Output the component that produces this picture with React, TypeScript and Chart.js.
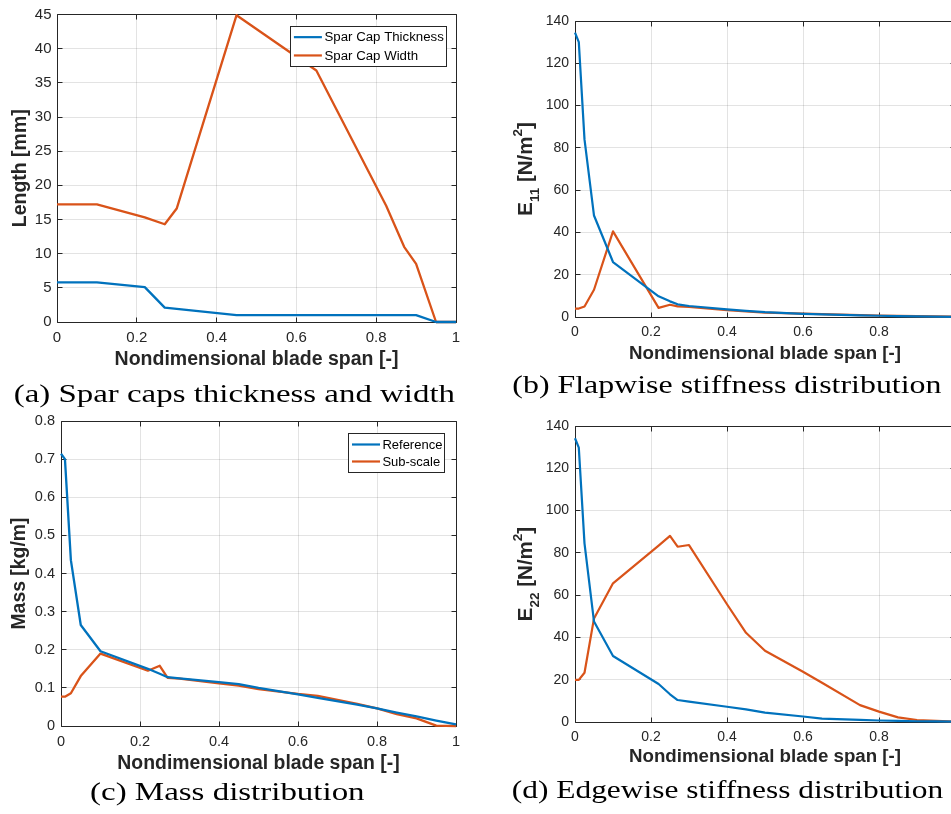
import React, { useEffect, useLayoutEffect, useRef } from "react";
import { Chart, registerables } from "chart.js";

Chart.register(...registerables);

// ---------------- data ----------------
const spanTicks = [0, 0.2, 0.4, 0.6, 0.8, 1];
const lengthTicks = [0, 5, 10, 15, 20, 25, 30, 35, 40, 45];
const stiffnessTicks = [0, 20, 40, 60, 80, 100, 120, 140];
const massTicks = [0, 0.1, 0.2, 0.3, 0.4, 0.5, 0.6, 0.7, 0.8];

// (a) spar caps
const capThicknessSpan = [0, 0.1, 0.22, 0.27, 0.45, 0.9, 0.95, 1];
const capThicknessMm = [5.8, 5.8, 5.1, 2.1, 1.0, 1.0, 0, 0];
const capWidthSpan = [0, 0.1, 0.22, 0.27, 0.3, 0.45, 0.65, 0.825, 0.87, 0.9, 0.95, 1];
const capWidthMm = [17.2, 17.2, 15.3, 14.3, 16.6, 44.9, 36.8, 17.0, 11.0, 8.5, 0, 0];

// stations shared by (b), (c), (d)
const stations = [0, 0.01, 0.025, 0.05, 0.1, 0.22, 0.25, 0.27, 0.3, 0.4, 0.45, 0.5, 0.6, 0.65, 0.75, 0.8, 0.85, 0.9, 0.95, 1];

// (b) flapwise stiffness E11
const e11Reference = [134.5, 130, 84, 48, 26, 9.8, 7.4, 6.0, 5.2, 3.6, 2.9, 2.3, 1.5, 1.2, 0.8, 0.6, 0.45, 0.3, 0.2, 0.1];
const e11SubScale = [4.0, 4.0, 5.0, 12.9, 40.5, 4.3, 5.8, 5.0, 4.8, 3.2, 2.6, 2.1, 1.6, 1.4, 0.9, 0.7, 0.5, 0.4, 0.3, 0.2];

// (c) mass
const massReference = [0.714, 0.7, 0.435, 0.265, 0.196, 0.15, 0.137, 0.128, 0.125, 0.115, 0.11, 0.1, 0.083, 0.074, 0.056, 0.046, 0.035, 0.025, 0.014, 0.004];
const massSubScale = [0.077, 0.077, 0.086, 0.131, 0.19, 0.145, 0.158, 0.126, 0.124, 0.112, 0.106, 0.097, 0.084, 0.079, 0.058, 0.046, 0.031, 0.02, 0.001, 0.0];

// (d) edgewise stiffness E22
const e22Reference = [134.2, 129.8, 84.5, 47.5, 31.2, 18.0, 13.1, 10.4, 9.6, 7.2, 6.0, 4.4, 2.6, 1.6, 1.0, 0.7, 0.5, 0.35, 0.25, 0.15];
const e22SubScale = [19.9, 19.9, 23.3, 49, 65.6, 83.4, 88, 82.9, 83.7, 55.7, 42.2, 33.7, 23.8, 18.6, 8.0, 4.9, 2.2, 0.95, 0.5, 0.2];

// ---------------- styles ----------------
const BLUE = "#0072BD";
const ORANGE = "#D95319";
const AXIS = "#262626";
const GRID = "rgba(38,38,38,0.13)";
const SANS = "'Liberation Sans', Arial, Helvetica, sans-serif";
const SERIF = "'Liberation Serif', 'Times New Roman', serif";
const SPAN_TITLE = "Nondimensional blade span [-]";

const alignPx = (v: number) => Math.round(v - 0.5) + 0.5;

const matlabAxes = {
  id: "matlabAxes",
  beforeDatasetsDraw(chart: any, _args: any, opts: any) {
    const { ctx, chartArea } = chart;
    const { x, y } = chart.scales;
    const l = alignPx(chartArea.left);
    const r = alignPx(chartArea.right);
    const t = alignPx(chartArea.top);
    const b = alignPx(chartArea.bottom);
    const L = opts.tickLen ?? 5;
    ctx.save();
    ctx.strokeStyle = AXIS;
    ctx.lineWidth = 1;
    ctx.beginPath();
    ctx.rect(l, t, r - l, b - t);
    x.ticks.forEach((tk: any) => {
      const px = alignPx(x.getPixelForValue(tk.value));
      ctx.moveTo(px, b);
      ctx.lineTo(px, b - L);
      ctx.moveTo(px, t);
      ctx.lineTo(px, t + L);
    });
    y.ticks.forEach((tk: any) => {
      const py = alignPx(y.getPixelForValue(tk.value));
      ctx.moveTo(l, py);
      ctx.lineTo(l + L, py);
      ctx.moveTo(r, py);
      ctx.lineTo(r - L, py);
    });
    ctx.stroke();
    ctx.restore();
  },
};

const boxLegend = {
  id: "boxLegend",
  afterDatasetsDraw(chart: any, _args: any, opts: any) {
    if (!opts || !opts.show) return;
    const { ctx, chartArea } = chart;
    const items = chart.data.datasets.map((d: any) => ({ label: d.label, color: d.borderColor }));
    ctx.save();
    ctx.font = `${opts.fontSize}px ${SANS}`;
    const textW = Math.max(...items.map((i: any) => ctx.measureText(i.label).width));
    const w = opts.padL + opts.lineLen + opts.gap + textW + opts.padR;
    const h = items.length * opts.rowH + opts.padV * 2;
    const x0 = Math.round(chartArea.right - opts.marginRight - w) + 0.5;
    const y0 = Math.round(chartArea.top + opts.marginTop) + 0.5;
    ctx.fillStyle = "#ffffff";
    ctx.fillRect(x0, y0, w, h);
    ctx.strokeStyle = AXIS;
    ctx.lineWidth = 1;
    ctx.strokeRect(x0, y0, Math.round(w), Math.round(h));
    items.forEach((it: any, i: number) => {
      const cy = y0 + opts.padV + opts.rowH * (i + 0.5);
      ctx.strokeStyle = it.color;
      ctx.lineWidth = opts.lineWidth;
      ctx.beginPath();
      ctx.moveTo(x0 + opts.padL, cy);
      ctx.lineTo(x0 + opts.padL + opts.lineLen, cy);
      ctx.stroke();
      ctx.fillStyle = "#000000";
      ctx.textAlign = "left";
      ctx.textBaseline = "middle";
      ctx.fillText(it.label, x0 + opts.padL + opts.lineLen + opts.gap, cy + 0.5);
    });
    ctx.restore();
  },
};

type Series = { label: string; xs: number[]; ys: number[]; color: string };

type PanelSpec = {
  left: number;
  top: number;
  w: number;
  h: number;
  pad: { top: number; right: number; bottom: number };
  yAxisW: number;
  xAxisH: number;
  series: Series[];
  yMax: number;
  yTicks: number[];
  yTitle: string | null;
  yTitlePad: number;
  tickSize: number;
  xTickPad: number;
  yTickPad: number;
  titleSize: number;
  lineWidth: number;
  legend: any;
};

function buildConfig(p: PanelSpec): any {
  return {
    type: "line",
    data: {
      datasets: p.series.map((s) => ({
        label: s.label,
        data: s.xs.map((x, i) => ({ x, y: s.ys[i] })),
        borderColor: s.color,
        backgroundColor: s.color,
        borderWidth: p.lineWidth,
        pointRadius: 0,
        fill: false,
        tension: 0,
        borderJoinStyle: "round",
        clip: 4,
      })),
    },
    options: {
      responsive: false,
      animation: false,
      devicePixelRatio: 1,
      events: [],
      layout: { padding: { left: 0, top: p.pad.top, right: p.pad.right, bottom: p.pad.bottom } },
      plugins: {
        legend: { display: false },
        tooltip: { enabled: false },
        matlabAxes: { tickLen: 5 },
        boxLegend: p.legend,
      },
      scales: {
        x: {
          type: "linear",
          min: 0,
          max: 1,
          afterBuildTicks: (s: any) => {
            s.ticks = spanTicks.map((v) => ({ value: v }));
          },
          afterFit: (s: any) => {
            s.height = p.xAxisH;
          },
          ticks: {
            font: { family: SANS, size: p.tickSize },
            color: AXIS,
            padding: p.xTickPad,
            maxRotation: 0,
            autoSkip: false,
            callback: (v: any) => String(v),
          },
          grid: { color: GRID, drawTicks: false, lineWidth: 1 },
          border: { display: false },
          title: {
            display: true,
            text: SPAN_TITLE,
            font: { family: SANS, size: p.titleSize, weight: "bold" },
            color: AXIS,
            padding: { top: 0, bottom: 0 },
          },
        },
        y: {
          type: "linear",
          min: 0,
          max: p.yMax,
          afterBuildTicks: (s: any) => {
            s.ticks = p.yTicks.map((v) => ({ value: v }));
          },
          afterFit: (s: any) => {
            s.width = p.yAxisW;
          },
          ticks: {
            font: { family: SANS, size: p.tickSize },
            color: AXIS,
            padding: p.yTickPad,
            autoSkip: false,
            callback: (v: any) => String(v),
          },
          grid: { color: GRID, drawTicks: false, lineWidth: 1 },
          border: { display: false },
          title: {
            display: !!p.yTitle,
            text: p.yTitle || "",
            font: { family: SANS, size: p.titleSize, weight: "bold" },
            color: AXIS,
            padding: { top: p.yTitlePad, bottom: 0 },
          },
        },
      },
    },
    plugins: [matlabAxes, boxLegend],
  };
}

function Panel({ spec }: { spec: PanelSpec }) {
  const ref = useRef<HTMLCanvasElement>(null);
  useEffect(() => {
    const chart = new Chart(ref.current as HTMLCanvasElement, buildConfig(spec));
    return () => chart.destroy();
  }, []);
  return (
    <canvas
      ref={ref}
      width={spec.w}
      height={spec.h}
      style={{ position: "absolute", left: spec.left, top: spec.top, width: spec.w, height: spec.h }}
    />
  );
}

function Caption({ text, left, width, top }: { text: string; left: number; width: number; top: number }) {
  const ref = useRef<HTMLSpanElement>(null);
  useLayoutEffect(() => {
    const el = ref.current;
    if (!el) return;
    const w = el.offsetWidth;
    if (w > 0) el.style.transform = `scaleX(${width / w})`;
  }, []);
  return (
    <div
      style={{
        position: "absolute",
        left,
        top,
        width,
        textAlign: "center",
        whiteSpace: "nowrap",
        fontFamily: SERIF,
        fontSize: 26,
        lineHeight: "26px",
        color: "#000",
      }}
    >
      <span ref={ref} style={{ display: "inline-block", transformOrigin: "center" }}>
        {text}
      </span>
    </div>
  );
}

function StiffnessLabel({ sub, cx, cy }: { sub: string; cx: number; cy: number }) {
  return (
    <div
      style={{
        position: "absolute",
        left: cx,
        top: cy,
        transform: "translate(-50%, -50%) rotate(-90deg)",
        whiteSpace: "nowrap",
        fontFamily: SANS,
        fontWeight: "bold",
        fontSize: 20.5,
        lineHeight: 1,
        color: AXIS,
      }}
    >
      E<span style={{ fontSize: 13.5, position: "relative", top: "0.5em" }}>{sub}</span> [N/m
      <span style={{ fontSize: 13.5, position: "relative", top: "-0.72em" }}>2</span>]
    </div>
  );
}

const legendA = {
  show: true,
  fontSize: 13.25,
  padL: 3.4,
  lineLen: 28,
  gap: 2.6,
  padR: 2.7,
  rowH: 18.3,
  padV: 1.5,
  marginRight: 10.3,
  marginTop: 11,
  lineWidth: 2.2,
};

const legendC = {
  show: true,
  fontSize: 13,
  padL: 3.5,
  lineLen: 28,
  gap: 2.4,
  padR: 2.5,
  rowH: 17,
  padV: 2.5,
  marginRight: 12,
  marginTop: 12,
  lineWidth: 2.2,
};

const panelA: PanelSpec = {
  left: 0,
  top: 0,
  w: 470,
  h: 380,
  pad: { top: 13, right: 14, bottom: 9 },
  yAxisW: 57,
  xAxisH: 49,
  series: [
    { label: "Spar Cap Thickness", xs: capThicknessSpan, ys: capThicknessMm, color: BLUE },
    { label: "Spar Cap Width", xs: capWidthSpan, ys: capWidthMm, color: ORANGE },
  ],
  yMax: 45,
  yTicks: lengthTicks,
  yTitle: "Length [mm]",
  yTitlePad: 8.8,
  tickSize: 15,
  xTickPad: 6.5,
  yTickPad: 5.5,
  titleSize: 19.5,
  lineWidth: 2.3,
  legend: legendA,
};

const panelB: PanelSpec = {
  left: 480,
  top: 0,
  w: 500,
  h: 380,
  pad: { top: 21, right: 25, bottom: 15 },
  yAxisW: 95,
  xAxisH: 48,
  series: [
    { label: "Reference", xs: stations, ys: e11Reference, color: BLUE },
    { label: "Sub-scale", xs: stations, ys: e11SubScale, color: ORANGE },
  ],
  yMax: 140,
  yTicks: stiffnessTicks,
  yTitle: null,
  yTitlePad: 0,
  tickSize: 14,
  xTickPad: 6.6,
  yTickPad: 6,
  titleSize: 18.7,
  lineWidth: 2.2,
  legend: { show: false },
};

const panelC: PanelSpec = {
  left: 0,
  top: 400,
  w: 470,
  h: 414,
  pad: { top: 21, right: 14, bottom: 39 },
  yAxisW: 61,
  xAxisH: 49,
  series: [
    { label: "Reference", xs: stations, ys: massReference, color: BLUE },
    { label: "Sub-scale", xs: stations, ys: massSubScale, color: ORANGE },
  ],
  yMax: 0.8,
  yTicks: massTicks,
  yTitle: "Mass [kg/m]",
  yTitlePad: 8.2,
  tickSize: 14.5,
  xTickPad: 7.3,
  yTickPad: 6,
  titleSize: 19.4,
  lineWidth: 2.3,
  legend: legendC,
};

const panelD: PanelSpec = {
  left: 480,
  top: 400,
  w: 500,
  h: 414,
  pad: { top: 26, right: 25, bottom: 46 },
  yAxisW: 95,
  xAxisH: 46,
  series: [
    { label: "Reference", xs: stations, ys: e22Reference, color: BLUE },
    { label: "Sub-scale", xs: stations, ys: e22SubScale, color: ORANGE },
  ],
  yMax: 140,
  yTicks: stiffnessTicks,
  yTitle: null,
  yTitlePad: 0,
  tickSize: 14,
  xTickPad: 6.8,
  yTickPad: 6,
  titleSize: 18.7,
  lineWidth: 2.2,
  legend: { show: false },
};

export default function App() {
  return (
    <div
      style={{
        position: "fixed",
        left: 0,
        top: 0,
        width: 951,
        height: 814,
        overflow: "hidden",
        background: "#ffffff",
      }}
    >
      <Panel spec={panelA} />
      <Panel spec={panelB} />
      <Panel spec={panelC} />
      <Panel spec={panelD} />
      <StiffnessLabel sub="11" cx={524.6} cy={168.7} />
      <StiffnessLabel sub="22" cx={524.6} cy={574} />
      <Caption text="(a) Spar caps thickness and width" left={13.3} width={441.7} top={380.5} />
      <Caption text="(b) Flapwise stiffness distribution" left={512.3} width={429.4} top={372.2} />
      <Caption text="(c) Mass distribution" left={90} width={275} top={779.2} />
      <Caption text="(d) Edgewise stiffness distribution" left={511.7} width={431.6} top={776.5} />
    </div>
  );
}
